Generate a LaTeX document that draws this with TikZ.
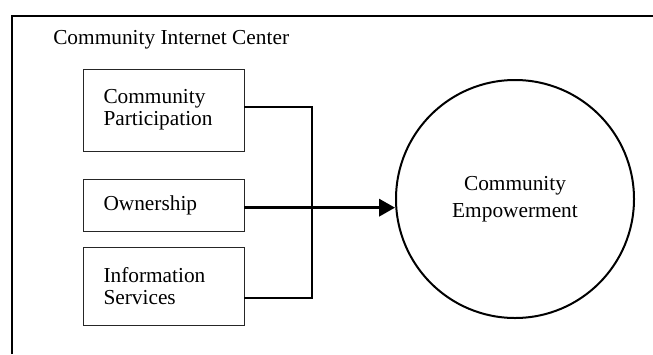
\documentclass[tikz,border=0pt]{standalone}
\usepackage{fontspec}
\setmainfont{Liberation Serif}
\usetikzlibrary{arrows.meta}

\begin{document}
\begin{tikzpicture}[x=0.75pt, y=-0.75pt,
  factor/.style={draw=black!85, line width=0.6pt, align=left, text width=90pt, inner xsep=15pt, minimum width=120.75pt, font=\fontsize{16}{16.5}\selectfont},
  link/.style={line width=1.3pt},
  >={Triangle[length=12pt,width=13pt]}]

\useasboundingbox (0,0) rectangle (653,354);

% Draw the frame of the internet center (open to the right and below)
\draw [line width=1.5pt] (11.5,354) -- (11.5,15.5) -- (653,15.5);
\node [anchor=base west, inner sep=0pt, font=\fontsize{16}{16.5}\selectfont] (title) at (53,44) {Community Internet Center};

% Factors
\node [factor, minimum height=61.5pt] (part) at (163.5,110) {Community\\Participation};
\node [factor, minimum height=39pt] (own) at (163.5,205) {Ownership};
\node [factor, minimum height=58.5pt] (info) at (163.5,286) {Information\\Services};

% Outcome
\node [draw, circle, line width=1.5pt, minimum size=178.5pt, align=center, font=\fontsize{16}{20}\selectfont] (emp) at (515,199) {Community\\Empowerment};

% Bracket joining the factors
\coordinate (join) at (312,207);
\draw [link] ([yshift=2.25pt]part.east) -| (join) |- ([yshift=-9pt]info.east);
\draw [->, line width=2pt] ([yshift=-2pt]own.east) -- ([yshift=-2pt]own.east -| emp.west);

\end{tikzpicture}
\end{document}
